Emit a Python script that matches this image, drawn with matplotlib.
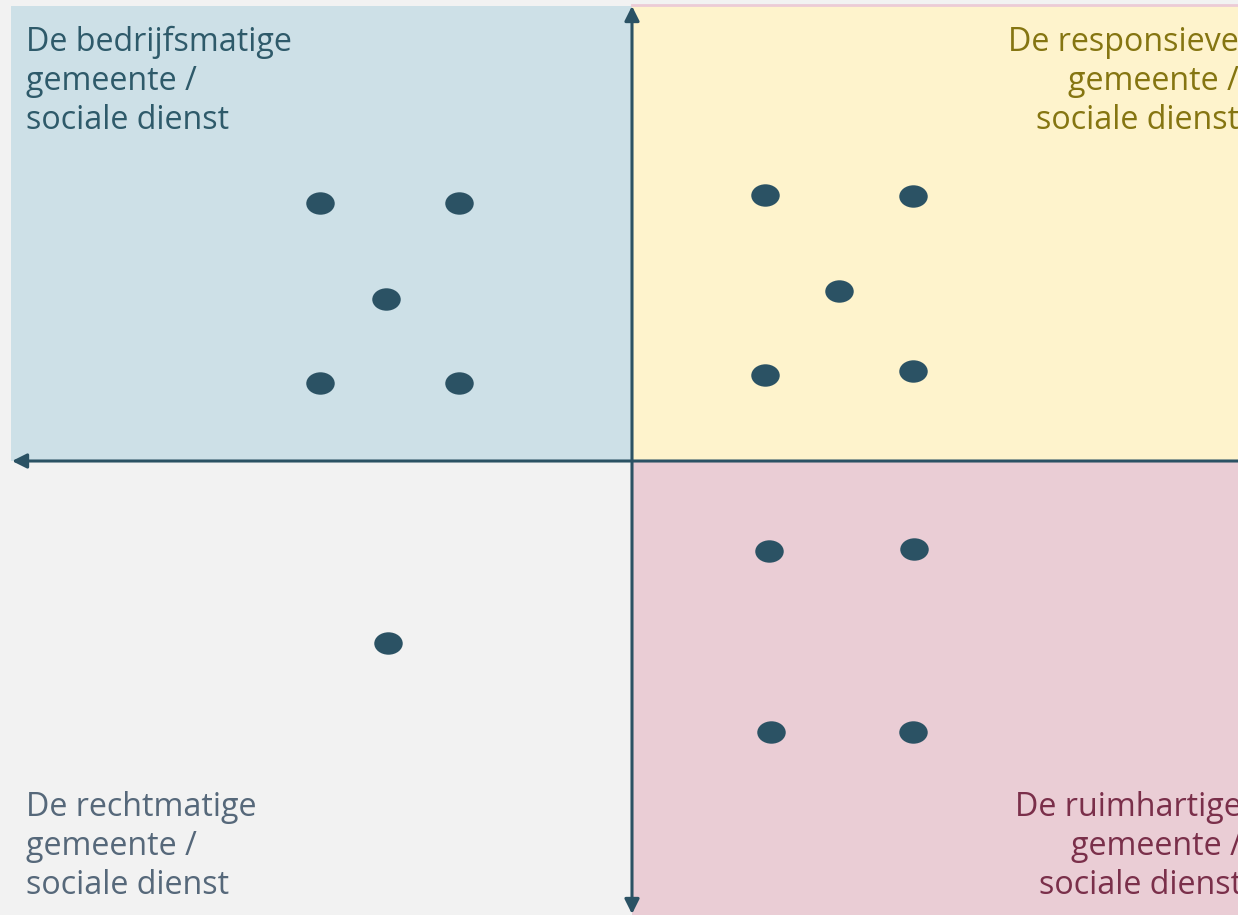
import matplotlib
matplotlib.use("Agg")
import matplotlib.pyplot as plt
from matplotlib.patches import Rectangle
from matplotlib.path import Path
from matplotlib.transforms import Affine2D

# quadrant labels
labels = [
    "De bedrijfsmatige\ngemeente /\nsociale dienst",
    "De responsieve\ngemeente /\nsociale dienst",
    "De rechtmatige\ngemeente /\nsociale dienst",
    "De ruimhartige\ngemeente /\nsociale dienst",
]

# dots per quadrant (x, y scores; 0 = axis)
blue_x = [-3.12, -1.73, -2.46, -3.12, -1.73]
blue_y = [2.58, 2.58, 1.62, 0.78, 0.78]
yellow_x = [1.33, 2.81, 2.07, 1.33, 2.81]
yellow_y = [2.66, 2.65, 1.70, 0.86, 0.90]
pink_x = [1.37, 2.82, 1.39, 2.81]
pink_y = [-0.90, -0.88, -2.71, -2.71]
grey_x = [-2.44]
grey_y = [-1.82]

DOT = "#2b5264"
AXIS = "#2b5264"

plt.rcParams["font.family"] = ["Open Sans", "DejaVu Sans"]

fig = plt.figure(figsize=(12.38, 9.15), dpi=100, facecolor="#f2f2f2")
ax = fig.add_axes([0, 0, 1, 1])
ax.set_facecolor("#f2f2f2")
ax.set_xlim(-6.32, 6.06)
ax.set_ylim(-4.54, 4.61)
ax.axis("off")

# quadrant backgrounds
ax.add_patch(Rectangle((-6.21, 0), 6.21, 4.55, color="#cde0e7", lw=0, zorder=0))
ax.add_patch(Rectangle((0, 0), 6.2, 4.55, color="#fef3cc", lw=0, zorder=0))
ax.add_patch(Rectangle((0, -4.6), 6.2, 4.6, color="#eacdd5", lw=0, zorder=0))
ax.plot([0, 6.2], [4.56, 4.56], color="#eccbd6", lw=2, zorder=0)

# axes with arrows
ax.annotate("", xy=(0, 4.55), xytext=(0, -4.53),
            arrowprops=dict(arrowstyle="<|-|>", color=AXIS, lw=2.2,
                            mutation_scale=22, shrinkA=0, shrinkB=0))
ax.annotate("", xy=(-6.20, 0), xytext=(6.2, 0), annotation_clip=False,
            arrowprops=dict(arrowstyle="-|>", color=AXIS, lw=2.2,
                            mutation_scale=22, shrinkA=0, shrinkB=0))

# elliptical dot marker
ell = Path.unit_circle().transformed(Affine2D().scale(1.27, 1.0))
for xs, ys in [(blue_x, blue_y), (yellow_x, yellow_y), (pink_x, pink_y), (grey_x, grey_y)]:
    ax.scatter(xs, ys, marker=ell, s=20.5 ** 2, color=DOT, zorder=3, lw=0)

fs = 23.2
ls = 1.24
ax.text(-6.06, 4.35, labels[0], ha="left", va="top", fontsize=fs,
        color="#2e5a6a", linespacing=ls)
ax.text(6.07, 4.35, labels[1], ha="right", va="top", fontsize=fs,
        color="#857511", linespacing=ls, multialignment="right")
ax.text(-6.06, -3.30, labels[2], ha="left", va="top", fontsize=fs,
        color="#56687a", linespacing=ls)
ax.text(6.10, -3.30, labels[3], ha="right", va="top", fontsize=fs,
        color="#7a2f4a", linespacing=ls, multialignment="right")

fig.savefig("out.png", dpi=100, facecolor=fig.get_facecolor())
